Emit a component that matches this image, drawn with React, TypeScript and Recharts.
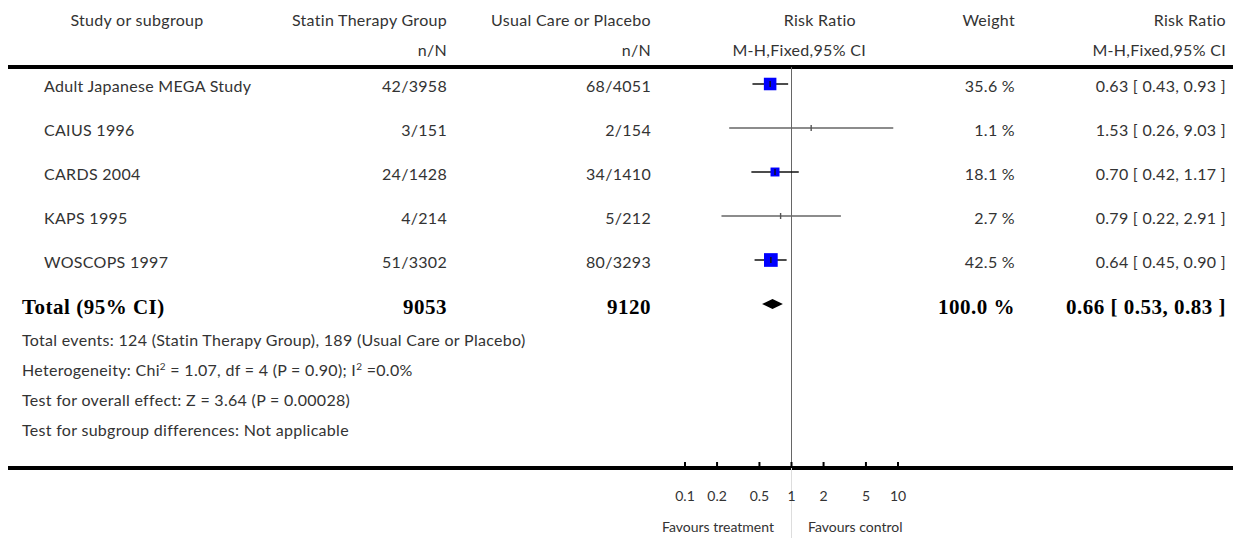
import React from "react";
import {
  ScatterChart,
  Scatter,
  XAxis,
  YAxis,
  ReferenceLine,
  ReferenceArea,
  Customized,
} from "recharts";

const studies = [
  "Adult Japanese MEGA Study",
  "CAIUS 1996",
  "CARDS 2004",
  "KAPS 1995",
  "WOSCOPS 1997",
];
const statinEvents = [42, 3, 24, 4, 51];
const statinTotal = [3958, 151, 1428, 214, 3302];
const controlEvents = [68, 2, 34, 5, 80];
const controlTotal = [4051, 154, 1410, 212, 3293];
const weights = [35.6, 1.1, 18.1, 2.7, 42.5];
const riskRatio = [0.63, 1.53, 0.7, 0.79, 0.64];
const ciLow = [0.43, 0.26, 0.42, 0.22, 0.45];
const ciHigh = [0.93, 9.03, 1.17, 2.91, 0.9];

const totalStatin = 9053;
const totalControl = 9120;
const totalWeight = 100.0;
const pooledRR = 0.66;
const pooledLow = 0.53;
const pooledHigh = 0.83;

const xTicks = [0.1, 0.2, 0.5, 1, 2, 5, 10];

const footnotes = [
  "Total events: 124 (Statin Therapy Group), 189 (Usual Care or Placebo)",
  "HETERO",
  "Test for overall effect: Z = 3.64 (P = 0.00028)",
  "Test for subgroup differences: Not applicable",
];

// layout
const W = 1241;
const H = 538;
const PLOT_L = 685;
const PLOT_R = 898;
const ROW0 = 84;
const ROW_H = 44;
const AXIS_Y = 468;
const PLOT_TOP = 62;
const X_AXIS_H = 40;
const toRow = (px: number) => (px - ROW0) / ROW_H;

const SANS = "Lato, 'Open Sans', sans-serif";
const SERIF = "'Liberation Serif', 'Times New Roman', serif";
const INK = "#333";
const FS = 16;
const LS = 0.3;

const STUDY_X = 44;
const STATIN_R = 447;
const CONTROL_R = 651;
const WEIGHT_R = 1015;
const RESULT_R = 1226;

const fmtCI = (r: number, lo: number, hi: number) =>
  `${r.toFixed(2)} [ ${lo.toFixed(2)}, ${hi.toFixed(2)} ]`;

const points = studies.map((s, i) => ({
  name: s,
  rr: riskRatio[i],
  row: i,
  weight: weights[i],
}));

const StudyMark = (p: any) => {
  const { cx, cy, payload } = p;
  const side = 2.1 * Math.sqrt(payload.weight);
  return (
    <g>
      {payload.weight >= 5 && (
        <rect x={cx - side / 2} y={cy - side / 2} width={side} height={side} fill="#0000ff" />
      )}
      <line x1={cx} x2={cx} y1={cy - 3} y2={cy + 3} stroke={payload.weight >= 5 ? "#111" : "#555"} strokeWidth={1.4} />
    </g>
  );
};

const Diamond = (p: any) => {
  const { x, y, width, height } = p;
  const my = y + height / 2;
  return (
    <polygon
      points={`${x},${my} ${x + width / 2},${y} ${x + width},${my} ${x + width / 2},${y + height}`}
      fill="#000"
    />
  );
};

const AxisTick = (p: any) => {
  const { x, payload } = p;
  return (
    <g>
      <line x1={x} x2={x} y1={AXIS_Y - 6} y2={AXIS_Y} stroke="#000" strokeWidth={2} />
      <text x={x} y={AXIS_Y + 33} textAnchor="middle" fontFamily={SANS} fontSize={14} fill={INK}>
        {payload.value}
      </text>
    </g>
  );
};

const TableLayer = () => {
  const t = (x: number, y: number, s: React.ReactNode, anchor = "start", extra: any = {}) => (
    <text
      x={x}
      y={y}
      textAnchor={anchor as any}
      fontFamily={SANS}
      fontSize={FS}
      letterSpacing={LS}
      fill={INK}
      {...extra}
    >
      {s}
    </text>
  );
  const rowBase = (i: number) => ROW0 + i * ROW_H + 8;
  const totalY = ROW0 + studies.length * ROW_H + 10;
  const bold = { fontFamily: SERIF, fontSize: 21, fontWeight: "bold", fill: "#000", letterSpacing: 0.5 };
  return (
    <g>
      {t(137, 26, "Study or subgroup", "middle")}
      {t(STATIN_R, 26, "Statin Therapy Group", "end")}
      {t(CONTROL_R, 26, "Usual Care or Placebo", "end")}
      {t(856, 26, "Risk Ratio", "end")}
      {t(WEIGHT_R, 26, "Weight", "end")}
      {t(RESULT_R, 26, "Risk Ratio", "end")}
      {t(STATIN_R, 56, "n/N", "end")}
      {t(CONTROL_R, 56, "n/N", "end")}
      {t(866, 56, "M-H,Fixed,95% CI", "end")}
      {t(RESULT_R, 56, "M-H,Fixed,95% CI", "end")}
      <line x1={8} x2={1233} y1={67} y2={67} stroke="#000" strokeWidth={4} />
      <line x1={8} x2={1233} y1={AXIS_Y} y2={AXIS_Y} stroke="#000" strokeWidth={4} />
      {studies.map((s, i) => (
        <g key={s}>
          {t(STUDY_X, rowBase(i), s)}
          {t(STATIN_R, rowBase(i), `${statinEvents[i]}/${statinTotal[i]}`, "end")}
          {t(CONTROL_R, rowBase(i), `${controlEvents[i]}/${controlTotal[i]}`, "end")}
          {t(WEIGHT_R, rowBase(i), `${weights[i].toFixed(1)} %`, "end")}
          {t(RESULT_R, rowBase(i), fmtCI(riskRatio[i], ciLow[i], ciHigh[i]), "end")}
        </g>
      ))}
      {t(22, totalY, "Total (95% CI)", "start", bold)}
      {t(STATIN_R, totalY, `${totalStatin}`, "end", bold)}
      {t(CONTROL_R, totalY, `${totalControl}`, "end", bold)}
      {t(WEIGHT_R, totalY, `${totalWeight.toFixed(1)} %`, "end", bold)}
      {t(RESULT_R, totalY, fmtCI(pooledRR, pooledLow, pooledHigh), "end", bold)}
      {footnotes.map((f, i) => {
        const y = 346 + i * 30;
        if (f === "HETERO") {
          return (
            <text key={i} x={22} y={y} fontFamily={SANS} fontSize={FS} letterSpacing={LS} fill={INK}>
              Heterogeneity: Chi
              <tspan dy={-6} fontSize={10}>2</tspan>
              <tspan dy={6}> = 1.07, df = 4 (P = 0.90); I</tspan>
              <tspan dy={-6} fontSize={10}>2</tspan>
              <tspan dy={6}> =0.0%</tspan>
            </text>
          );
        }
        return (
          <text key={i} x={22} y={y} fontFamily={SANS} fontSize={FS} letterSpacing={LS} fill={INK}>
            {f}
          </text>
        );
      })}
      {t(774, 532, "Favours treatment", "end", { fontSize: 14, letterSpacing: 0 })}
      {t(808, 532, "Favours control", "start", { fontSize: 14, letterSpacing: 0 })}
    </g>
  );
};

export default function App() {
  const yMin = toRow(PLOT_TOP);
  const yMax = toRow(AXIS_Y);
  return (
    <div style={{ position: "absolute", left: 0, top: 0, width: W, height: H, background: "#fff" }}>
      <ScatterChart
        width={W}
        height={H}
        margin={{ top: PLOT_TOP, left: PLOT_L, right: W - PLOT_R, bottom: H - AXIS_Y - X_AXIS_H }}
      >
        <XAxis
          type="number"
          dataKey="rr"
          scale="log"
          domain={[0.1, 10]}
          ticks={xTicks}
          allowDataOverflow
          axisLine={false}
          tickLine={false}
          tickSize={0}
          height={X_AXIS_H}
          tick={<AxisTick />}
          interval={0}
        />
        <YAxis type="number" dataKey="row" domain={[yMin, yMax]} reversed hide allowDataOverflow />
        <Customized component={<TableLayer />} />
        <ReferenceLine
          segment={[{ x: 1, y: toRow(67) }, { x: 1, y: yMax }]}
          stroke="#666"
          strokeWidth={1}
          ifOverflow="visible"
        />
        <ReferenceLine
          segment={[{ x: 1, y: yMax }, { x: 1, y: toRow(H) }]}
          stroke="#ddd"
          strokeWidth={1}
          ifOverflow="visible"
        />
        <Scatter data={points} shape={<StudyMark />} isAnimationActive={false} />
        {studies.map((s, i) => (
          <ReferenceLine
            key={s}
            segment={[{ x: ciLow[i], y: i }, { x: ciHigh[i], y: i }]}
            stroke={weights[i] >= 5 ? "#111" : "#666"}
            strokeWidth={1.3}
            ifOverflow="visible"
          />
        ))}
        <ReferenceArea
          x1={pooledLow}
          x2={pooledHigh}
          y1={studies.length - 0.115}
          y2={studies.length + 0.115}
          ifOverflow="visible"
          shape={<Diamond />}
        />
      </ScatterChart>
    </div>
  );
}
